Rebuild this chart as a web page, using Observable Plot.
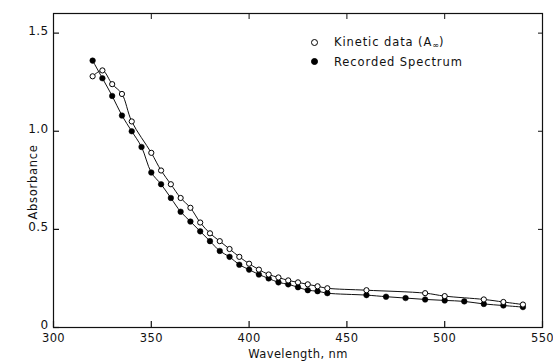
<!DOCTYPE html>
<html>
<head>
<meta charset="utf-8">
<script src="https://cdn.jsdelivr.net/npm/d3@7"></script>
<script src="https://cdn.jsdelivr.net/npm/@observablehq/plot@0.6"></script>
<style>
  body { margin: 0; background: #fff; }
  #wrap { position: relative; width: 553px; height: 363px; font-family: "DejaVu Sans", sans-serif; }
  #legend { position: absolute; left: 311px; top: 33px; font-size: 11.5px; letter-spacing: 0.9px; color: #111; }
  .row { display: flex; align-items: center; height: 19px; white-space: nowrap; }
  .mk { width: 5px; height: 5px; border-radius: 50%; border: 1px solid #000; margin-right: 16px; box-sizing: content-box; }
  .mk.filled { background: #000; }
  .mk.open { background: #fff; }
  sub { font-size: 8px; vertical-align: -2px; letter-spacing: 0; }
  #ylab { position: absolute; left: 33px; top: 182px; transform: translate(-50%, -50%) rotate(-90deg); font-size: 11.5px; letter-spacing: 0.7px; color: #111; white-space: nowrap; }
</style>
</head>
<body>
<div id="wrap">
  <div id="chart"></div>
  <div id="legend"></div>
  <div id="ylab"></div>
</div>
<script>
// Kinetic data (A∞) — open circles
const kineticWavelength = [320, 325, 330, 335, 340, 350, 355, 360, 365, 370, 375, 380, 385, 390, 395, 400, 405, 410, 415, 420, 425, 430, 435, 440, 460, 490, 500, 520, 530, 540];
const kineticAbs        = [1.28, 1.31, 1.24, 1.19, 1.05, 0.89, 0.80, 0.73, 0.66, 0.61, 0.535, 0.48, 0.44, 0.40, 0.36, 0.325, 0.295, 0.27, 0.255, 0.24, 0.23, 0.22, 0.21, 0.20, 0.19, 0.175, 0.16, 0.143, 0.13, 0.117];

// Recorded spectrum — filled circles
const recordedWavelength = [320, 325, 330, 335, 340, 345, 350, 355, 360, 365, 370, 375, 380, 385, 390, 395, 400, 405, 410, 415, 420, 425, 430, 435, 440, 460, 470, 480, 490, 500, 510, 520, 530, 540];
const recordedAbs        = [1.36, 1.27, 1.18, 1.08, 1.00, 0.92, 0.79, 0.73, 0.66, 0.59, 0.54, 0.49, 0.44, 0.39, 0.36, 0.32, 0.295, 0.27, 0.25, 0.23, 0.22, 0.205, 0.19, 0.185, 0.175, 0.165, 0.157, 0.15, 0.143, 0.138, 0.133, 0.12, 0.112, 0.104];

const xTicks = [300, 350, 400, 450, 500, 550];
const yTicks = [0, 0.5, 1.0, 1.5];
const xLabel = "Wavelength, nm";
const yLabel = "Absorbance";
const legendLabels = ["Kinetic data (A<sub>∞</sub>)", "Recorded Spectrum"];

const kinetic = kineticWavelength.map((w, i) => ({w, a: kineticAbs[i]}));
const recorded = recordedWavelength.map((w, i) => ({w, a: recordedAbs[i]}));

const font = "DejaVu Sans, sans-serif";

const chart = Plot.plot({
  width: 553,
  height: 363,
  marginLeft: 53,
  marginRight: 11,
  marginTop: 13,
  marginBottom: 36,
  style: { fontFamily: font, fontSize: "12px", color: "#111", background: "#fff" },
  x: { domain: [300, 550] },
  y: { domain: [0, 1.6] },
  marks: [
    Plot.frame({ stroke: "#111", strokeWidth: 1.2 }),
    Plot.axisX({ ticks: xTicks, anchor: "bottom", tickSize: -6, tickPadding: 12, label: null, tickFormat: d => String(d), strokeWidth: 1.2, fontSize: 11.5 }),
    Plot.axisX({ ticks: xTicks.slice(1, -1), anchor: "top", tickSize: -5, tickFormat: () => "", label: null }),
    Plot.axisY({ ticks: yTicks, anchor: "left", tickSize: -6, tickFormat: () => "", label: null, strokeWidth: 1.2 }),
    Plot.axisY({ ticks: yTicks, anchor: "left", tickSize: 0, tickPadding: 5, label: null, tickFormat: d => d === 0 ? "0" : d.toFixed(1), dy: -2 }),
    Plot.axisY({ ticks: yTicks.slice(1), anchor: "right", tickSize: -5, tickFormat: () => "", label: null }),
    Plot.text([xLabel], { text: d => d, frameAnchor: "bottom", dy: 30, fontSize: 11.5, fill: "#111" }),
    Plot.line(kinetic, { x: "w", y: "a", curve: "catmull-rom", stroke: "#111", strokeWidth: 1 }),
    Plot.line(recorded, { x: "w", y: "a", curve: "catmull-rom", stroke: "#111", strokeWidth: 1 }),
    Plot.dot(recorded, { x: "w", y: "a", r: 2.8, fill: "#000", stroke: "#000", strokeWidth: 0.5 }),
    Plot.dot(kinetic, { x: "w", y: "a", r: 2.6, fill: "#fff", stroke: "#000", strokeWidth: 1 })
  ]
});
document.getElementById("chart").appendChild(chart);
chart.querySelectorAll("text").forEach(t => t.setAttribute("letter-spacing", "0.4"));

document.getElementById("ylab").textContent = yLabel;

const legend = document.getElementById("legend");
legendLabels.forEach((lab, i) => {
  const row = document.createElement("div");
  row.className = "row";
  row.innerHTML = `<span class="mk ${i === 0 ? "open" : "filled"}"></span><span>${lab}</span>`;
  legend.appendChild(row);
});
</script>
</body>
</html>
